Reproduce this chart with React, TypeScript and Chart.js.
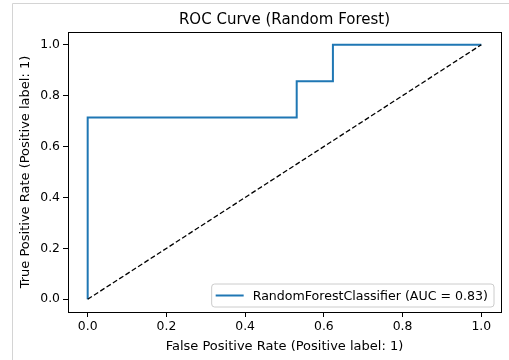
import React, { useEffect, useRef } from "react";
import { Chart, registerables } from "chart.js";

Chart.register(...registerables);

const ROC_FPR = [0, 0, 0.531, 0.531, 0.623, 0.623, 1];
const ROC_TPR = [0, 0.714, 0.714, 0.857, 0.857, 1, 1];
const DIAG_X = [0, 1];
const DIAG_Y = [0, 1];
const TICKS = [0, 0.2, 0.4, 0.6, 0.8, 1.0];
const TITLE = "ROC Curve (Random Forest)";
const X_TITLE = "False Positive Rate (Positive label: 1)";
const Y_TITLE = "True Positive Rate (Positive label: 1)";
const LEGEND_LABEL = "RandomForestClassifier (AUC = 0.83)";

const FONT = "'DejaVu Sans', sans-serif";
const BLUE = "#1f77b4";

const decorPlugin = {
  id: "decor",
  beforeDraw(chart: any) {
    const ctx = chart.ctx;
    ctx.save();
    ctx.fillStyle = "#ffffff";
    ctx.fillRect(0, 0, chart.width, chart.height);
    ctx.strokeStyle = "#d4d4d4";
    ctx.lineWidth = 1;
    ctx.beginPath();
    ctx.moveTo(12.5, chart.height);
    ctx.lineTo(12.5, 3.5);
    ctx.lineTo(chart.width, 3.5);
    ctx.stroke();
    ctx.restore();
  },
  afterDraw(chart: any) {
    const ctx = chart.ctx;
    const a = chart.chartArea;
    ctx.save();
    ctx.strokeStyle = "#000";
    ctx.lineWidth = 1;
    ctx.strokeRect(Math.round(a.left) + 0.5, Math.round(a.top) + 0.5, Math.round(a.right - a.left), Math.round(a.bottom - a.top));
    ctx.fillStyle = "#000";
    ctx.font = `15px ${FONT}`;
    ctx.textAlign = "center";
    ctx.textBaseline = "alphabetic";
    ctx.fillText(TITLE, (a.left + a.right) / 2, 24);
    ctx.font = `12.6px ${FONT}`;
    const tw = ctx.measureText(LEGEND_LABEL).width;
    const boxW = tw + 47;
    const boxH = 23;
    const bx = a.right - 7 - boxW;
    const by = a.bottom - 5 - boxH;
    const r = 3;
    ctx.beginPath();
    ctx.moveTo(bx + r, by);
    ctx.lineTo(bx + boxW - r, by);
    ctx.arcTo(bx + boxW, by, bx + boxW, by + r, r);
    ctx.lineTo(bx + boxW, by + boxH - r);
    ctx.arcTo(bx + boxW, by + boxH, bx + boxW - r, by + boxH, r);
    ctx.lineTo(bx + r, by + boxH);
    ctx.arcTo(bx, by + boxH, bx, by + boxH - r, r);
    ctx.lineTo(bx, by + r);
    ctx.arcTo(bx, by, bx + r, by, r);
    ctx.closePath();
    ctx.fillStyle = "rgba(255,255,255,0.8)";
    ctx.fill();
    ctx.strokeStyle = "#cccccc";
    ctx.stroke();
    const cy = by + boxH / 2;
    ctx.strokeStyle = BLUE;
    ctx.lineWidth = 2;
    ctx.beginPath();
    ctx.moveTo(bx + 4, cy);
    ctx.lineTo(bx + 32, cy);
    ctx.stroke();
    ctx.fillStyle = "#000";
    ctx.textAlign = "left";
    ctx.textBaseline = "middle";
    ctx.fillText(LEGEND_LABEL, bx + 41, cy + 1);
    ctx.restore();
  },
};

export default function App() {
  const ref = useRef<HTMLCanvasElement | null>(null);
  useEffect(() => {
    document.body.style.margin = "0";
    if (!ref.current) return;
    const chart = new Chart(ref.current, {
      type: "scatter",
      data: {
        datasets: [
          {
            label: "diag",
            data: DIAG_X.map((x, i) => ({ x, y: DIAG_Y[i] })),
            showLine: true,
            borderColor: "#000",
            borderWidth: 1.3,
            borderDash: [5, 2.5],
            pointRadius: 0,
          },
          {
            label: LEGEND_LABEL,
            data: ROC_FPR.map((x, i) => ({ x, y: ROC_TPR[i] })),
            showLine: true,
            borderColor: BLUE,
            borderWidth: 2,
            pointRadius: 0,
            tension: 0,
          },
        ],
      },
      options: {
        animation: false,
        responsive: false,
        layout: { padding: { top: 32, right: 8, left: 0, bottom: 0 } },
        plugins: {
          legend: { display: false },
          title: { display: false },
          tooltip: { enabled: false },
        },
        scales: {
          x: {
            type: "linear",
            min: -0.05,
            max: 1.05,
            afterBuildTicks: (s: any) => {
              s.ticks = TICKS.map((v) => ({ value: v }));
            },
            afterFit: (s: any) => {
              s.height = 48;
            },
            border: { display: false },
            grid: { drawOnChartArea: false, drawTicks: true, tickLength: 5, color: "#000", tickColor: "#000" },
            ticks: {
              color: "#000",
              font: { family: FONT, size: 12.4 },
              padding: 2,
              maxRotation: 0,
              callback: (v: any) => Number(v).toFixed(1),
            },
            title: {
              display: true,
              text: X_TITLE,
              color: "#000",
              font: { family: FONT, size: 13 },
              padding: { top: 0, bottom: 6 },
            },
          },
          y: {
            type: "linear",
            min: -0.05,
            max: 1.05,
            afterBuildTicks: (s: any) => {
              s.ticks = TICKS.map((v) => ({ value: v }));
            },
            afterFit: (s: any) => {
              s.width = 68;
            },
            border: { display: false },
            grid: { drawOnChartArea: false, drawTicks: true, tickLength: 5, color: "#000", tickColor: "#000" },
            ticks: {
              color: "#000",
              font: { family: FONT, size: 12.4 },
              padding: 3,
              callback: (v: any) => Number(v).toFixed(1),
            },
            title: {
              display: true,
              text: Y_TITLE,
              color: "#000",
              font: { family: FONT, size: 13 },
              padding: { top: 18, bottom: 0 },
            },
          },
        },
      },
      plugins: [decorPlugin],
    });
    return () => chart.destroy();
  }, []);
  return (
    <div style={{ position: "absolute", left: 0, top: 0, width: 509, height: 360 }}>
      <canvas ref={ref} width={509} height={360} style={{ display: "block" }} />
    </div>
  );
}
